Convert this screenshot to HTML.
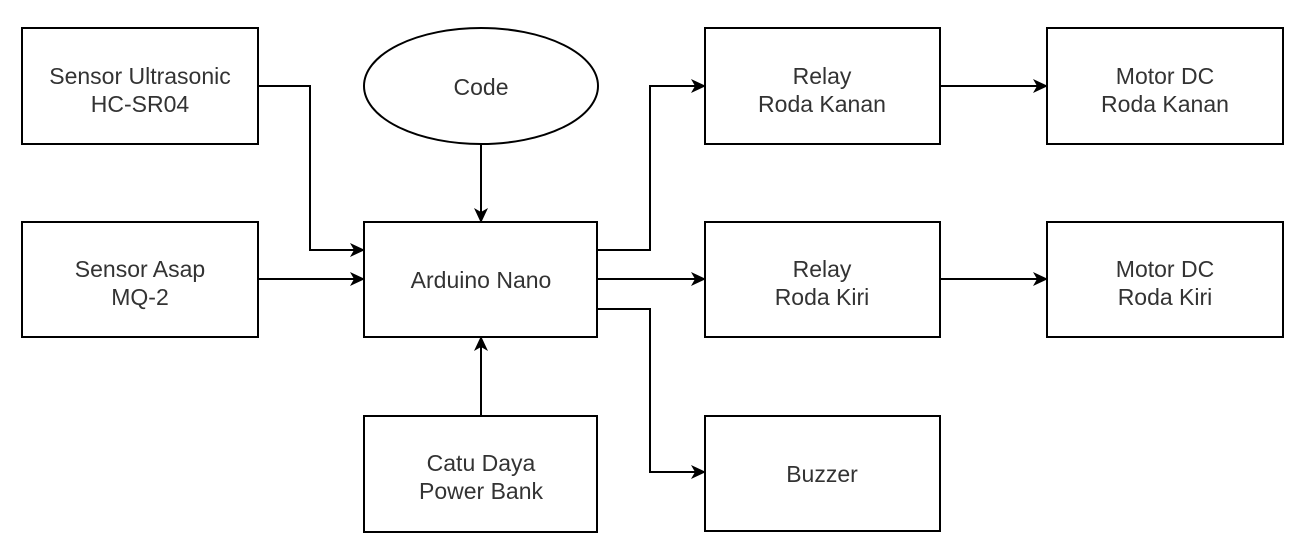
<!DOCTYPE html>
<html><head><style>body{margin:0;background:#fff}</style></head><body>
<svg width="1307" height="552" xmlns="http://www.w3.org/2000/svg" font-family="Liberation Sans, sans-serif" font-size="23" fill="#333">
<defs><marker id="a" markerWidth="16" markerHeight="16" refX="14" refY="7" orient="auto" markerUnits="userSpaceOnUse"><path d="M0,0 L15,7 L0,14 L4,7 Z" fill="#000"/></marker></defs>
<g fill="#fff" stroke="#000" stroke-width="2">
<rect x="22" y="28" width="236" height="116"/>
<rect x="22" y="222" width="236" height="115"/>
<ellipse cx="481" cy="86" rx="117" ry="58"/>
<rect x="364" y="222" width="233" height="115"/>
<rect x="364" y="416" width="233" height="116"/>
<rect x="705" y="28" width="235" height="116"/>
<rect x="705" y="222" width="235" height="115"/>
<rect x="705" y="416" width="235" height="115"/>
<rect x="1047" y="28" width="236" height="116"/>
<rect x="1047" y="222" width="236" height="115"/>
</g>
<g fill="none" stroke="#000" stroke-width="2" marker-end="url(#a)">
<path d="M258,86 H310 V250 H364"/>
<path d="M258,279 H364"/>
<path d="M481,144 V222"/>
<path d="M481,416 V337"/>
<path d="M597,250 H650 V86 H705"/>
<path d="M597,279 H705"/>
<path d="M597,309 H650 V472 H705"/>
<path d="M940,86 H1047"/>
<path d="M940,279 H1047"/>
</g>
<g text-anchor="middle" fill="#333">
<text x="140" y="84">Sensor Ultrasonic</text><text x="140" y="112">HC-SR04</text>
<text x="140" y="277">Sensor Asap</text><text x="140" y="305">MQ-2</text>
<text x="481" y="95">Code</text>
<text x="481" y="288">Arduino Nano</text>
<text x="481" y="471">Catu Daya</text><text x="481" y="499">Power Bank</text>
<text x="822" y="84">Relay</text><text x="822" y="112">Roda Kanan</text>
<text x="822" y="277">Relay</text><text x="822" y="305">Roda Kiri</text>
<text x="822" y="482">Buzzer</text>
<text x="1165" y="84">Motor DC</text><text x="1165" y="112">Roda Kanan</text>
<text x="1165" y="277">Motor DC</text><text x="1165" y="305">Roda Kiri</text>
</g>
</svg>
</body></html>
